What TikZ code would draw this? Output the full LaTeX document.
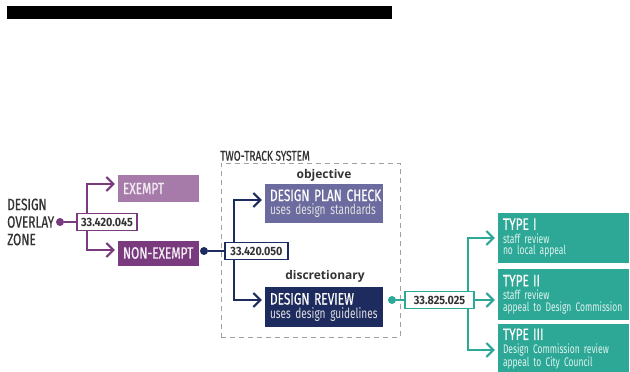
\documentclass[tikz,border=0pt]{standalone}
\usepackage{fontspec}
\setmainfont{Fira Sans}
\newfontfamily\cond[FakeStretch=0.72]{Fira Sans}
\newfontfamily\condN[FakeStretch=0.68]{Fira Sans}
\newfontfamily\condM[FakeStretch=0.72,FakeBold=0.6]{Fira Sans}
\newfontfamily\numf[FakeStretch=0.9]{Fira Sans}
\newfontfamily\lblf{Open Sans}
\usetikzlibrary{arrows.meta}
\definecolor{exlight}{HTML}{A77BA9}
\definecolor{purp}{HTML}{7A3A7E}
\definecolor{slate}{HTML}{6B6B9F}
\definecolor{navy}{HTML}{1E2B5E}
\definecolor{teal2}{HTML}{2DA896}
\definecolor{txt}{HTML}{333333}
\definecolor{dashgray}{HTML}{A0A0A0}
\tikzset{
  conn/.style={line width=2pt, line join=miter},
  arr/.style={-{Straight Barb[length=7pt,width=14pt]}, shorten >=3pt},
  numbox/.style={draw, fill=white, line width=1.7pt, minimum height=17pt, inner sep=0pt,
     font=\numf\bfseries\fontsize{12}{14}\selectfont, text=txt},
  dotst/.style={circle, fill, inner sep=0pt, minimum size=8pt},
  box/.style={inner xsep=5pt, inner ysep=0pt, align=left, text=white,
     font=\condM\fontsize{16.5}{17}\selectfont},
  twoline/.style={box, font=\cond\fontsize{14}{13.5}\selectfont},
  typebox/.style={box, fill=teal2, minimum width=131, text width=121,
     font=\condN\fontsize{12.5}{11.8}\selectfont},
}
\newcommand{\ttl}[1]{\mbox{\condM\fontsize{16.5}{17}\selectfont #1}}
\newcommand{\subA}[1]{\mbox{\color{white!88!black}#1}}
\newcommand{\subT}[1]{\mbox{\color{white!85!teal2}#1}}
\begin{document}
\begin{tikzpicture}[x=1pt,y=-1pt]
\useasboundingbox (0,0) rectangle (630,372);
% redaction bar
\fill[black] (7,6) rectangle (392,19);

% ---------- left part ----------
\node[anchor=west, align=left, text=txt, font=\condM\fontsize{16.5}{17.5}\selectfont, inner sep=0pt] (dz) at (7,222) {DESIGN\\OVERLAY\\ZONE};
\node[dotst, fill=purp] (d1) at (60,222) {};
\node[box, fill=exlight, minimum width=81, minimum height=27, text width=71, text=white!85!exlight] (ex) at (158.5,188.5) {\mbox{EXEMPT}};
\node[box, fill=purp, minimum width=81, minimum height=25, text width=71, text=white!92!purp] (nex) at (158.5,253) {\mbox{NON-EXEMPT}};
\coordinate (j1a) at (87,184);
\coordinate (j1b) at (87,250);
\draw[conn, purp, arr] (j1b) -- (j1a) -- (ex.west |- j1a);
\draw[conn, purp, arr] (j1a) -- (j1b) -- (nex.west |- j1b);
\node[numbox, draw=purp, minimum width=60] (n1) at (107,222) {33.420.045};
\draw[conn, purp] (d1) -- (n1);

% ---------- two-track system ----------
\node[draw=dashgray, dashed, dash pattern=on 5pt off 4pt, line width=1pt, minimum width=179, minimum height=174, inner sep=0pt] (tts) at (310.5,250) {};
\node[anchor=south west, text=txt, font=\condM\fontsize{14}{14}\selectfont, inner sep=0pt] (ttsl) at (220,161) {TWO-TRACK SYSTEM};
\node[twoline, fill=slate, minimum width=118, minimum height=39, text width=108] (dpc) at (324,203.5) {\ttl{DESIGN PLAN CHECK}\\\subA{uses design standards}};
\node[twoline, fill=navy, minimum width=118, minimum height=40, text width=108] (dr) at (324,307) {\ttl{DESIGN REVIEW}\\\subA{uses design guidelines}};
\node[anchor=south, inner sep=0pt, text=txt, font=\lblf\bfseries\fontsize{12}{12}\selectfont] (obj) at (324,182) {objective};
\node[anchor=south, inner sep=0pt, text=txt, font=\lblf\bfseries\fontsize{12}{12}\selectfont] (dis) at (325,283) {discretionary};
\node[dotst, fill=navy] (d2) at (204,251) {};
\coordinate (j2a) at (234,200);
\coordinate (j2b) at (234,300);
\draw[conn, navy, arr] (j2b) -- (j2a) -- (dpc.west |- j2a);
\draw[conn, navy, arr] (j2a) -- (j2b) -- (dr.west |- j2b);
\node[numbox, draw=navy, minimum width=63] (n2) at (256.5,251) {33.420.050};
\draw[conn, navy] (d2) -- (n2);

% ---------- types ----------
\node[typebox, minimum height=50] (t1) at (563.5,238) {\ttl{TYPE I}\\[1.5pt]\subT{staff review}\\\subT{no local appeal}};
\node[typebox, minimum height=51] (t2) at (563.5,294.5) {\ttl{TYPE II}\\[1.5pt]\subT{staff review}\\\subT{appeal to Design Commission}};
\node[typebox, minimum height=50] (t3) at (563.5,349) {\ttl{TYPE III}\\[1.5pt]\subT{Design Commission review}\\\subT{appeal to City Council}};
\node[dotst, fill=teal2] (d3) at (392,300) {};
\coordinate (j3a) at (468,238);
\coordinate (j3b) at (468,350);
\draw[conn, teal2, arr] (j3b) -- (j3a) -- (t1.west |- j3a);
\draw[conn, teal2, arr] (j3a) -- (j3b) -- (t3.west |- j3b);
\node[numbox, draw=teal2, minimum width=69] (n3) at (439.5,300) {33.825.025};
\draw[conn, teal2] (d3) -- (n3);
\draw[conn, teal2, arr] (n3.east) -- (t2.west |- n3.east);
\end{tikzpicture}
\end{document}
